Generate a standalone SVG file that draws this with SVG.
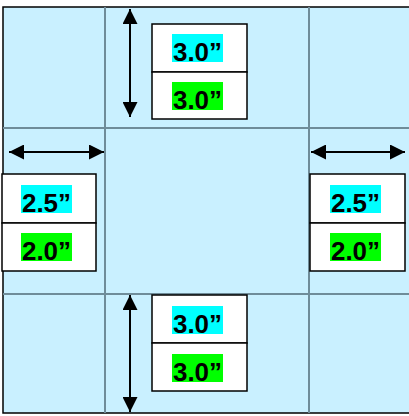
<svg xmlns="http://www.w3.org/2000/svg" width="409" height="416" viewBox="0 0 409 416">
<style>
.grid{stroke:#6f8c99;stroke-width:2;fill:none}
.box{fill:#fff;stroke:#000;stroke-width:1.5}
.arr{stroke:#000;stroke-width:2;fill:none;marker-start:url(#ah);marker-end:url(#ah)}
.cy{fill:#00ffff}
.gr{fill:#00ff00}
.t{font-family:"Liberation Sans",Arial,sans-serif;font-weight:bold;font-size:26px;fill:#000}
</style>
<defs>
<marker id="ah" viewBox="0 0 10 10" refX="10" refY="5" markerWidth="7.5" markerHeight="7.5" orient="auto-start-reverse" markerUnits="strokeWidth">
<path d="M0,0 L10,5 L0,10 Z" fill="#000"/>
</marker>
</defs>
<rect x="3" y="7" width="410" height="406" fill="#c9f0ff" stroke="#000" stroke-width="1.5"/>
<g id="grid">
<line class="grid" x1="105" y1="7" x2="105" y2="413"/>
<line class="grid" x1="309" y1="7" x2="309" y2="413"/>
<line class="grid" x1="3" y1="128" x2="409" y2="128"/>
<line class="grid" x1="3" y1="294" x2="409" y2="294"/>
</g>
<g id="connectors">
<line class="arr" x1="130" y1="9" x2="130" y2="117"/>
<line class="arr" x1="9" y1="152" x2="104" y2="152"/>
<line class="arr" x1="311" y1="152" x2="405" y2="152"/>
<line class="arr" x1="130" y1="295" x2="130" y2="412"/>
</g>
<g id="top">
<rect class="box" x="152" y="24" width="95" height="48"/>
<rect class="box" x="152" y="72" width="95" height="47"/>
<rect class="cy" x="172" y="34" width="51" height="28"/>
<rect class="gr" x="172" y="82" width="51" height="28"/>
<text class="t" x="173" y="61" textLength="49" lengthAdjust="spacingAndGlyphs">3.0”</text>
<text class="t" x="173" y="109" textLength="49" lengthAdjust="spacingAndGlyphs">3.0”</text>
</g>
<g id="left">
<rect class="box" x="2" y="174" width="94" height="49"/>
<rect class="box" x="2" y="223" width="94" height="48"/>
<rect class="cy" x="21" y="185" width="51" height="28"/>
<rect class="gr" x="21" y="233" width="51" height="28"/>
<text class="t" x="22" y="212" textLength="49" lengthAdjust="spacingAndGlyphs">2.5”</text>
<text class="t" x="22" y="260" textLength="49" lengthAdjust="spacingAndGlyphs">2.0”</text>
</g>
<g id="right">
<rect class="box" x="310" y="174" width="95" height="49"/>
<rect class="box" x="310" y="223" width="95" height="48"/>
<rect class="cy" x="330" y="185" width="51" height="28"/>
<rect class="gr" x="330" y="233" width="51" height="28"/>
<text class="t" x="331" y="212" textLength="49" lengthAdjust="spacingAndGlyphs">2.5”</text>
<text class="t" x="331" y="260" textLength="49" lengthAdjust="spacingAndGlyphs">2.0”</text>
</g>
<g id="bottom">
<rect class="box" x="152" y="295" width="95" height="48"/>
<rect class="box" x="152" y="343" width="95" height="48"/>
<rect class="cy" x="172" y="306" width="51" height="28"/>
<rect class="gr" x="172" y="354" width="51" height="28"/>
<text class="t" x="173" y="333" textLength="49" lengthAdjust="spacingAndGlyphs">3.0”</text>
<text class="t" x="173" y="381" textLength="49" lengthAdjust="spacingAndGlyphs">3.0”</text>
</g>
</svg>
